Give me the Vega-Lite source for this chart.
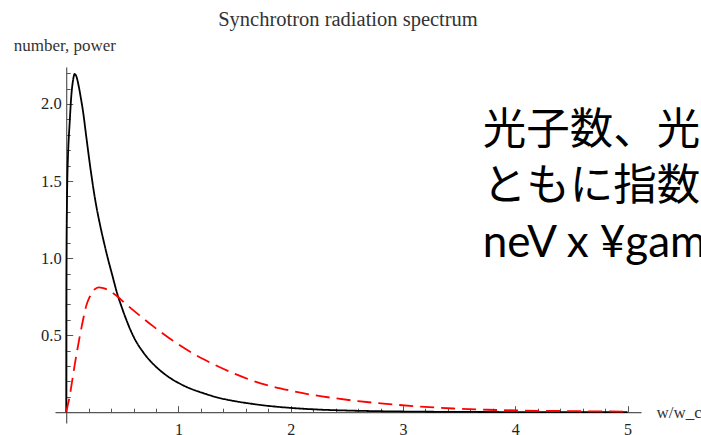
{
  "$schema": "https://vega.github.io/schema/vega-lite/v6.json",
  "width": 586,
  "height": 356,
  "autosize": {"type": "none"},
  "padding": {"left": 55, "top": 67, "right": 60, "bottom": 12},
  "background": "white",
  "config": {"view": {"stroke": null}},
  "title": {
    "text": "Synchrotron radiation spectrum",
    "font": "Liberation Serif",
    "fontSize": 20.5,
    "fontWeight": "normal",
    "color": "#333",
    "anchor": "middle",
    "frame": "group",
    "offset": 6
  },
  "datasets": {
    "curves": [
      {"x": 0, "y": 0, "s": "number"},
      {"x": 0.001, "y": 0.75, "s": "number"},
      {"x": 0.003, "y": 1.1, "s": "number"},
      {"x": 0.006, "y": 1.33, "s": "number"},
      {"x": 0.01, "y": 1.52, "s": "number"},
      {"x": 0.015, "y": 1.65, "s": "number"},
      {"x": 0.02, "y": 1.74, "s": "number"},
      {"x": 0.03, "y": 1.87, "s": "number"},
      {"x": 0.045, "y": 2.05, "s": "number"},
      {"x": 0.06, "y": 2.15, "s": "number"},
      {"x": 0.075, "y": 2.195, "s": "number"},
      {"x": 0.09, "y": 2.18, "s": "number"},
      {"x": 0.11, "y": 2.12, "s": "number"},
      {"x": 0.13, "y": 2.04, "s": "number"},
      {"x": 0.15, "y": 1.95, "s": "number"},
      {"x": 0.18, "y": 1.78, "s": "number"},
      {"x": 0.22, "y": 1.56, "s": "number"},
      {"x": 0.26, "y": 1.37, "s": "number"},
      {"x": 0.3, "y": 1.22, "s": "number"},
      {"x": 0.34, "y": 1.09, "s": "number"},
      {"x": 0.37, "y": 1.0, "s": "number"},
      {"x": 0.41, "y": 0.89, "s": "number"},
      {"x": 0.45, "y": 0.78, "s": "number"},
      {"x": 0.5, "y": 0.67, "s": "number"},
      {"x": 0.6, "y": 0.49, "s": "number"},
      {"x": 0.7, "y": 0.375, "s": "number"},
      {"x": 0.8, "y": 0.295, "s": "number"},
      {"x": 0.9, "y": 0.235, "s": "number"},
      {"x": 1.0, "y": 0.19, "s": "number"},
      {"x": 1.1, "y": 0.155, "s": "number"},
      {"x": 1.22, "y": 0.124, "s": "number"},
      {"x": 1.35, "y": 0.095, "s": "number"},
      {"x": 1.5, "y": 0.072, "s": "number"},
      {"x": 1.65, "y": 0.055, "s": "number"},
      {"x": 1.8, "y": 0.041, "s": "number"},
      {"x": 2.0, "y": 0.028, "s": "number"},
      {"x": 2.25, "y": 0.017, "s": "number"},
      {"x": 2.5, "y": 0.011, "s": "number"},
      {"x": 2.75, "y": 0.007, "s": "number"},
      {"x": 3.0, "y": 0.0045, "s": "number"},
      {"x": 3.5, "y": 0.002, "s": "number"},
      {"x": 4.0, "y": 0.001, "s": "number"},
      {"x": 4.5, "y": 0.0004, "s": "number"},
      {"x": 5.0, "y": 0.0002, "s": "number"},
      {"x": 0, "y": 0, "s": "power"},
      {"x": 0.015, "y": 0.05, "s": "power"},
      {"x": 0.03, "y": 0.1, "s": "power"},
      {"x": 0.05, "y": 0.19, "s": "power"},
      {"x": 0.074, "y": 0.3, "s": "power"},
      {"x": 0.1, "y": 0.41, "s": "power"},
      {"x": 0.12, "y": 0.49, "s": "power"},
      {"x": 0.15, "y": 0.6, "s": "power"},
      {"x": 0.178, "y": 0.69, "s": "power"},
      {"x": 0.21, "y": 0.75, "s": "power"},
      {"x": 0.25, "y": 0.795, "s": "power"},
      {"x": 0.29, "y": 0.81, "s": "power"},
      {"x": 0.33, "y": 0.805, "s": "power"},
      {"x": 0.38, "y": 0.79, "s": "power"},
      {"x": 0.44, "y": 0.76, "s": "power"},
      {"x": 0.535, "y": 0.70, "s": "power"},
      {"x": 0.65, "y": 0.63, "s": "power"},
      {"x": 0.77, "y": 0.56, "s": "power"},
      {"x": 0.9, "y": 0.49, "s": "power"},
      {"x": 1.0, "y": 0.44, "s": "power"},
      {"x": 1.22, "y": 0.345, "s": "power"},
      {"x": 1.35, "y": 0.298, "s": "power"},
      {"x": 1.515, "y": 0.245, "s": "power"},
      {"x": 1.65, "y": 0.207, "s": "power"},
      {"x": 1.81, "y": 0.172, "s": "power"},
      {"x": 2.0, "y": 0.14, "s": "power"},
      {"x": 2.15, "y": 0.118, "s": "power"},
      {"x": 2.35, "y": 0.095, "s": "power"},
      {"x": 2.6, "y": 0.072, "s": "power"},
      {"x": 2.85, "y": 0.054, "s": "power"},
      {"x": 3.15, "y": 0.037, "s": "power"},
      {"x": 3.45, "y": 0.024, "s": "power"},
      {"x": 3.75, "y": 0.016, "s": "power"},
      {"x": 4.04, "y": 0.011, "s": "power"},
      {"x": 4.5, "y": 0.007, "s": "power"},
      {"x": 5.0, "y": 0.004, "s": "power"}
    ],
    "jp": [
      {"x": 3.71, "y": 1.74, "label": "光子数、光"},
      {"x": 3.71, "y": 1.375, "label": "ともに指数"}
    ],
    "en": [
      {"x": 3.71, "y": 1.01, "label": "neV x ¥gam"}
    ]
  },
  "encoding": {
    "x": {
      "field": "x", "type": "quantitative",
      "scale": {"domain": [-0.1, 5.12], "nice": false, "zero": false},
      "axis": {
        "values": [0.2,0.4,0.6,0.8,1,1.2,1.4,1.6,1.8,2,2.2,2.4,2.6,2.8,3,3.2,3.4,3.6,3.8,4,4.2,4.4,4.6,4.8,5],
        "labelExpr": "abs(datum.value - round(datum.value)) < 0.001 ? format(datum.value, 'd') : ''",
        "offset": -10.8,
        "grid": false,
        "domainColor": "#555",
        "domainWidth": 1.2,
        "tickColor": "#555",
        "tickWidth": 1,
        "tickSize": {"condition": {"test": "abs(datum.value - round(datum.value)) < 0.001", "value": -6.5}, "value": -4},
        "labelFont": "Liberation Serif",
        "labelFontSize": 16,
        "labelColor": "#222",
        "labelPadding": 15.5,
        "labelBaseline": "top",
        "title": "w/w_c",
        "titleFont": "Liberation Serif",
        "titleFontSize": 17,
        "titleFontWeight": "normal",
        "titleColor": "#333",
        "titleAngle": 0,
        "titleAlign": "left",
        "titleBaseline": "alphabetic",
        "titleAnchor": "start",
        "titleX": 601,
        "titleY": 5
      }
    },
    "y": {
      "field": "y", "type": "quantitative",
      "scale": {"domain": [-0.07, 2.24], "nice": false, "zero": false},
      "axis": {
        "values": [0.1,0.2,0.3,0.4,0.5,0.6,0.7,0.8,0.9,1,1.1,1.2,1.3,1.4,1.5,1.6,1.7,1.8,1.9,2,2.1,2.2],
        "labelExpr": "abs(datum.value*2 - round(datum.value*2)) < 0.001 ? format(datum.value, '.1f') : ''",
        "offset": -11.2,
        "grid": false,
        "domainColor": "#555",
        "domainWidth": 1.2,
        "tickColor": "#555",
        "tickWidth": 1,
        "tickSize": {"condition": {"test": "abs(datum.value*2 - round(datum.value*2)) < 0.001", "value": -6.5}, "value": -4},
        "labelFont": "Liberation Serif",
        "labelFontSize": 16.5,
        "labelColor": "#222",
        "labelPadding": 11.5,
        "title": "number, power",
        "titleFont": "Liberation Serif",
        "titleFontSize": 17,
        "titleFontWeight": "normal",
        "titleColor": "#333",
        "titleAngle": 0,
        "titleAlign": "left",
        "titleBaseline": "alphabetic",
        "titleAnchor": "start",
        "titleX": -53,
        "titleY": -17
      }
    }
  },
  "layer": [
    {
      "data": {"name": "curves"},
      "mark": {"type": "line", "interpolate": "monotone", "strokeWidth": 1.8},
      "encoding": {
        "color": {
          "field": "s", "type": "nominal",
          "scale": {"domain": ["number", "power"], "range": ["#000000", "#ff0000"]},
          "legend": null
        },
        "strokeDash": {
          "field": "s", "type": "nominal",
          "scale": {"domain": ["number", "power"], "range": [[1, 0], [14, 7]]},
          "legend": null
        }
      }
    },
    {
      "data": {"name": "jp"},
      "mark": {"type": "text", "font": "Noto Sans CJK JP", "fontSize": 43.5, "align": "left", "baseline": "alphabetic", "color": "#000", "clip": false},
      "encoding": {
        "text": {"field": "label"}
      }
    },
    {
      "data": {"name": "en"},
      "mark": {"type": "text", "font": "Lato", "fontSize": 44, "align": "left", "baseline": "alphabetic", "color": "#000", "clip": false},
      "encoding": {
        "text": {"field": "label"}
      }
    }
  ]
}
